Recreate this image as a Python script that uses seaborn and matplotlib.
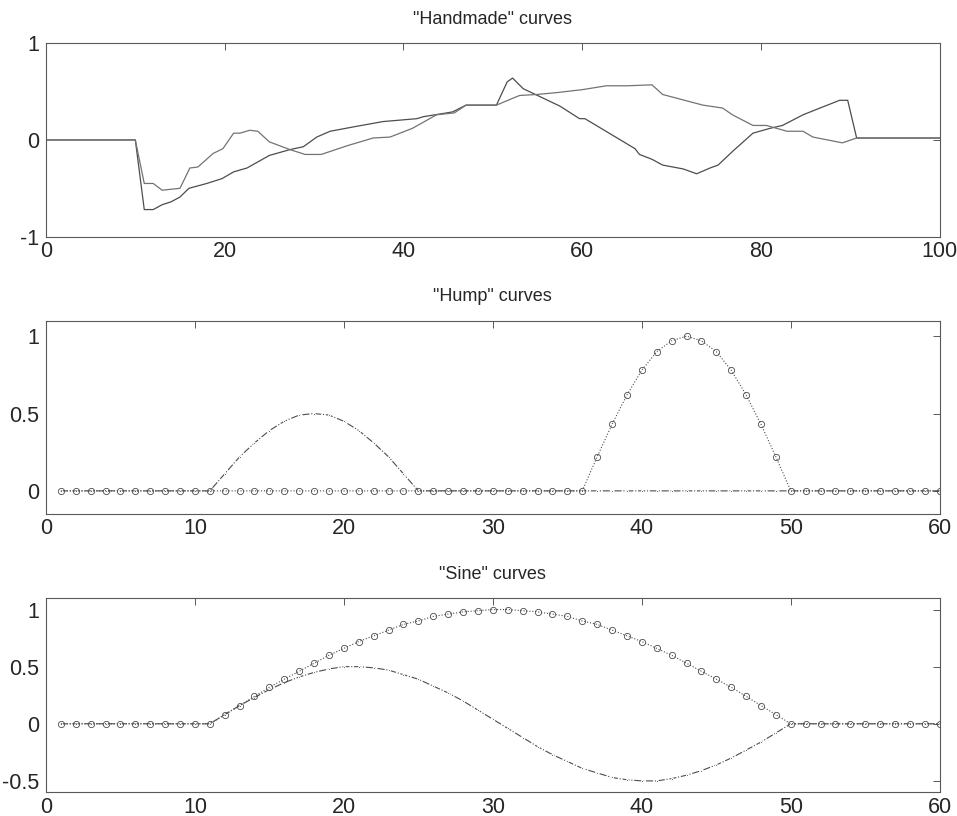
import matplotlib
matplotlib.use("Agg")
import matplotlib.pyplot as plt
from matplotlib import font_manager
import seaborn as sns

# ---------- data ----------
# "Handmade" curves (irregular x, hand-drawn)
hand_a_x = [0, 10, 11, 12, 13, 14, 15, 16, 18, 19.7, 21, 22.5, 25, 27.3, 28.8, 30.3,
            31.8, 34.7, 37.7, 41.5, 42.2, 45.5, 47, 50.4, 51.6, 52.2, 53.4, 57.5,
            59.7, 60.3, 65.9, 66.4, 67.8, 69, 71.3, 72.8, 74.3, 75.2, 76.8, 79.1,
            81, 82.4, 84.7, 86.6, 88.8, 89.7, 90.7, 100]
hand_a_y = [0, 0, -0.72, -0.72, -0.67, -0.64, -0.59, -0.5, -0.45, -0.4, -0.33, -0.29,
            -0.16, -0.1, -0.07, 0.03, 0.09, 0.14, 0.19, 0.22, 0.24, 0.29, 0.36, 0.36,
            0.6, 0.64, 0.53, 0.35, 0.22, 0.22, -0.09, -0.15, -0.2, -0.26, -0.3, -0.35,
            -0.29, -0.26, -0.12, 0.07, 0.12, 0.15, 0.26, 0.33, 0.41, 0.41, 0.02, 0.02]

hand_b_x = [0, 10, 11, 12, 13, 15, 16.1, 17, 18.7, 19.8, 21, 21.7, 22.8, 23.7, 25,
            27.3, 29, 30.8, 33.7, 36.6, 38.5, 41, 43.7, 45.7, 47, 50.4, 52.2, 53,
            54.9, 57.2, 60, 62.7, 65, 67.8, 69, 73.5, 75.7, 76.8, 79.1, 80.6, 82.9,
            84.7, 85.8, 89.1, 90.7, 100]
hand_b_y = [0, 0, -0.45, -0.45, -0.52, -0.5, -0.29, -0.28, -0.14, -0.09, 0.07, 0.07,
            0.1, 0.09, -0.02, -0.1, -0.15, -0.15, -0.06, 0.02, 0.03, 0.12, 0.26, 0.28,
            0.36, 0.36, 0.43, 0.46, 0.47, 0.49, 0.52, 0.56, 0.56, 0.57, 0.47, 0.36,
            0.33, 0.26, 0.15, 0.15, 0.09, 0.09, 0.03, -0.03, 0.02, 0.02]

# "Hump" curves, x = 1..60
hump_x = list(range(1, 61))
hump_small = ([0.0] * 11
              + [0.11, 0.22, 0.31, 0.39, 0.45, 0.49, 0.50, 0.49, 0.45, 0.39, 0.31, 0.22, 0.11]
              + [0.0] * 36)
hump_big = ([0.0] * 36
            + [0.22, 0.43, 0.62, 0.78, 0.90, 0.97, 1.00, 0.97, 0.90, 0.78, 0.62, 0.43, 0.22]
            + [0.0] * 11)

# "Sine" curves, x = 1..60
sine_x = list(range(1, 61))
sine_full = ([0.0] * 11
             + [0.08, 0.16, 0.23, 0.30, 0.36, 0.41, 0.45, 0.48, 0.50, 0.50, 0.49, 0.47,
                0.43, 0.39, 0.33, 0.27, 0.20, 0.12, 0.04, -0.04, -0.12, -0.20, -0.27,
                -0.33, -0.39, -0.43, -0.47, -0.49, -0.50, -0.50, -0.48, -0.45, -0.41,
                -0.36, -0.30, -0.23, -0.16, -0.08]
             + [0.0] * 11)
sine_half = ([0.0] * 11
             + [0.08, 0.16, 0.24, 0.32, 0.39, 0.46, 0.53, 0.60, 0.66, 0.72, 0.77, 0.82,
                0.87, 0.90, 0.94, 0.96, 0.98, 0.99, 1.00, 1.00, 0.99, 0.98, 0.96, 0.94,
                0.90, 0.87, 0.82, 0.77, 0.72, 0.66, 0.60, 0.53, 0.46, 0.39, 0.32, 0.24,
                0.16, 0.08]
             + [0.0] * 11)

# ---------- style ----------
sns.set_theme(style="white")
plt.rcParams["font.family"] = ["Liberation Sans", "DejaVu Sans"]
plt.rcParams["axes.unicode_minus"] = False

# tick labels in the scan are a narrow Helvetica
names = {f.name for f in font_manager.fontManager.ttflist}
TICK_FONT = "Liberation Sans Narrow" if "Liberation Sans Narrow" in names else "Liberation Sans"

LINE = "0.3"

fig = plt.figure(figsize=(9.57, 8.16), dpi=100)
ax1 = fig.add_axes([0.048, 0.710, 0.934, 0.237])
ax2 = fig.add_axes([0.048, 0.370, 0.934, 0.237])
ax3 = fig.add_axes([0.048, 0.029, 0.934, 0.238])


def style_axes(ax, title, xlim, ylim, xticks, yticks):
    ax.set_xlim(*xlim)
    ax.set_ylim(*ylim)
    ax.set_xticks(xticks)
    ax.set_yticks(yticks)
    ax.set_xticklabels([f"{t:g}" for t in xticks], family=TICK_FONT)
    ax.set_yticklabels([f"{t:g}" for t in yticks], family=TICK_FONT)
    ax.set_title(title, fontsize=13, pad=14)
    ax.set_xlabel("")
    ax.set_ylabel("")
    ax.tick_params(direction="in", length=5, width=0.7, color="0.35",
                   labelsize=15.5, top=True, right=True)
    ax.tick_params(axis="x", pad=3)
    ax.tick_params(axis="y", pad=5)
    for sp in ax.spines.values():
        sp.set_color("0.35")
        sp.set_linewidth(0.8)


# ---- Handmade ----
sns.lineplot(x=hand_a_x, y=hand_a_y, ax=ax1, color=LINE, lw=0.9, sort=False)
sns.lineplot(x=hand_b_x, y=hand_b_y, ax=ax1, color="0.45", lw=0.9, sort=False)
style_axes(ax1, '"Handmade" curves', (0, 100), (-1, 1), range(0, 101, 20), [-1, 0, 1])

# ---- Hump ----
sns.lineplot(x=hump_x, y=hump_small, ax=ax2, color=LINE, lw=0.8, linestyle="-.",
             marker=".", markersize=3)
sns.lineplot(x=hump_x, y=hump_big, ax=ax2, color=LINE, lw=0.8, linestyle=":",
             marker="o", markersize=4.5, markerfacecolor="none",
             markeredgecolor="0.3", markeredgewidth=0.6)
style_axes(ax2, '"Hump" curves', (0, 60), (-0.15, 1.1), range(0, 61, 10), [0, 0.5, 1])

# ---- Sine ----
sns.lineplot(x=sine_x, y=sine_full, ax=ax3, color=LINE, lw=0.8, linestyle="-.",
             marker=".", markersize=3)
sns.lineplot(x=sine_x, y=sine_half, ax=ax3, color=LINE, lw=0.8, linestyle=":",
             marker="o", markersize=4.5, markerfacecolor="none",
             markeredgecolor="0.3", markeredgewidth=0.6)
style_axes(ax3, '"Sine" curves', (0, 60), (-0.6, 1.1), range(0, 61, 10), [-0.5, 0, 0.5, 1])

fig.savefig("out.png", dpi=100)
plt.close(fig)
